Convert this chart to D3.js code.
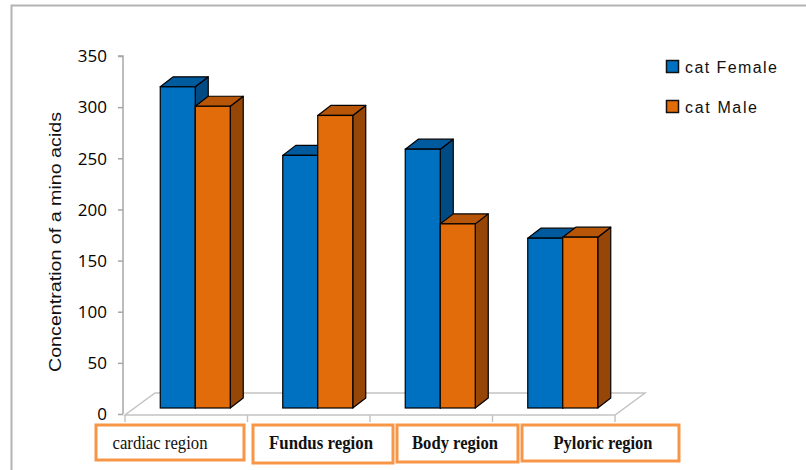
<!DOCTYPE html>
<html>
<head>
<meta charset="utf-8">
<script src="https://cdn.jsdelivr.net/npm/d3@7"></script>
<style>
  html, body { margin: 0; padding: 0; background: #fff; }
  svg { display: block; }
</style>
</head>
<body>
<svg id="chart" width="806" height="470"></svg>
<script>
// Amino acid concentration by stomach region, female vs male cats
const categories = ["cardiac region", "Fundus region", "Body region", "Pyloric region"];
const seriesNames = ["cat Female", "cat Male"];
const femaleValues = [314, 247, 253, 166];
const maleValues = [295, 286, 180, 167];
const yTicks = [0, 50, 100, 150, 200, 250, 300, 350];
const yTitle = "Concentration of a mino acids";

// layout of the category label boxes under the floor
const labelBoxes = [
  { x0: 96,  x1: 244, y0: 425, y1: 460, cx: 160, w: 95,  bold: false },
  { x0: 253, x1: 393, y0: 425, y1: 463, cx: 321, w: 104, bold: true },
  { x0: 397, x1: 518, y0: 425, y1: 462, cx: 455, w: 86,  bold: true },
  { x0: 522, x1: 679, y0: 425, y1: 461, cx: 603, w: 99,  bold: true }
];

const seriesColors = [
  { front: "#0070c0", top: "#005a9e", side: "#004b84" },
  { front: "#e36c0a", top: "#b75608", side: "#964606" }
];

const svg = d3.select("#chart");

// outer frame
svg.append("path")
  .attr("d", "M11.5,470 L11.5,5.5 L806,5.5")
  .attr("fill", "none")
  .attr("stroke", "#b3b3b3")
  .attr("stroke-width", 2);

const y = d3.scaleLinear().domain([0, 350]).range([414, 56]);
const floorX0 = 125, floorX1 = 615, floorY = 415;
const depth = { dx: 30, dy: -22 };          // full floor depth
const frontShift = { dx: 9, dy: -6 };       // bar front face inside the floor
const barDepth = { dx: 13, dy: -10 };
const groupW = 70;

const x0 = d3.scaleBand().domain(categories).range([floorX0, floorX1]);
const x1 = d3.scaleBand().domain(seriesNames).range([0, groupW]);

const gridColor = "#c4c4c4";

// floor
const floor = svg.append("g");
floor.append("polygon")
  .attr("points", [
    [floorX0, floorY], [floorX1, floorY],
    [floorX1 + depth.dx, floorY + depth.dy], [floorX0 + depth.dx, floorY + depth.dy]
  ].map(p => p.join(",")).join(" "))
  .attr("fill", "#fff")
  .attr("stroke", gridColor)
  .attr("stroke-width", 1.5);

// category tick marks along the front edge
const boundaries = categories.map(c => x0(c)).concat([floorX1]);
floor.selectAll("line.ctick").data(boundaries).join("line")
  .attr("class", "ctick")
  .attr("x1", d => d).attr("x2", d => d)
  .attr("y1", floorY).attr("y2", floorY + 7)
  .attr("stroke", gridColor).attr("stroke-width", 1.5);

// value axis
const axisX = 123;
const axisG = svg.append("g").attr("transform", `translate(${axisX},0)`);
axisG.call(d3.axisLeft(y).tickValues(yTicks).tickSize(5).tickPadding(11).tickFormat(d3.format("d")));
axisG.select(".domain").attr("stroke", "#a6a6a6").attr("stroke-width", 1.5)
  .attr("d", `M-5,${y(350)}H0V${y(0)}`);
axisG.selectAll(".tick line").attr("stroke", "#a6a6a6").attr("stroke-width", 1.5);
axisG.selectAll(".tick text")
  .attr("font-family", "'Open Sans', 'Liberation Sans', sans-serif")
  .attr("font-size", 17)
  .attr("fill", "#000")
  .attr("dy", "0.34em");

// axis title
svg.append("text")
  .attr("transform", "translate(61,242) rotate(-90)")
  .attr("text-anchor", "middle")
  .attr("font-family", "'Liberation Sans', Arial, sans-serif")
  .attr("font-size", 16)
  .attr("fill", "#111")
  .attr("textLength", 260)
  .attr("lengthAdjust", "spacingAndGlyphs")
  .text(yTitle);

// bars
const rows = categories.map((c, i) => ({
  cat: c,
  vals: [femaleValues[i], maleValues[i]]
}));

const bars = svg.append("g");
const pts = arr => arr.map(p => p.join(",")).join(" ");

rows.forEach(row => {
  const g = bars.append("g");
  const groupLeft = x0(row.cat) + (x0.bandwidth() - groupW) / 2;
  row.vals.forEach((v, si) => {
    const w = x1.bandwidth();
    const xl = groupLeft + x1(seriesNames[si]) + frontShift.dx;
    const xr = xl + w;
    const yb = y(0) + frontShift.dy;
    const yt = y(v) + frontShift.dy;
    const c = seriesColors[si];
    const dx = barDepth.dx, dy = barDepth.dy;
    g.append("polygon")
      .attr("points", pts([[xr, yt], [xr + dx, yt + dy], [xr + dx, yb + dy], [xr, yb]]))
      .attr("fill", c.side).attr("stroke", "#000").attr("stroke-width", 1.2)
      .attr("stroke-linejoin", "round");
    g.append("polygon")
      .attr("points", pts([[xl, yt], [xl + dx, yt + dy], [xr + dx, yt + dy], [xr, yt]]))
      .attr("fill", c.top).attr("stroke", "#000").attr("stroke-width", 1.2)
      .attr("stroke-linejoin", "round");
    g.append("rect")
      .attr("x", xl).attr("y", yt)
      .attr("width", w).attr("height", yb - yt)
      .attr("fill", c.front).attr("stroke", "#000").attr("stroke-width", 1.2);
  });
});

// category label boxes
const boxes = svg.append("g");
labelBoxes.forEach((b, i) => {
  boxes.append("rect")
    .attr("x", b.x0).attr("y", b.y0)
    .attr("width", b.x1 - b.x0).attr("height", b.y1 - b.y0)
    .attr("fill", "#fff")
    .attr("stroke", "#f79646")
    .attr("stroke-width", 3);
  boxes.append("text")
    .attr("x", b.cx).attr("y", 449)
    .attr("text-anchor", "middle")
    .attr("font-family", "'Liberation Serif', 'DejaVu Serif', serif")
    .attr("font-size", 19)
    .attr("font-weight", b.bold ? "bold" : "normal")
    .attr("fill", "#111")
    .attr("textLength", b.w)
    .attr("lengthAdjust", "spacingAndGlyphs")
    .text(categories[i]);
});

// legend
const legend = svg.append("g");
const legendRows = [
  { y: 60, tl: 92 },
  { y: 100, tl: 72 }
];
seriesNames.forEach((name, i) => {
  const ly = legendRows[i].y;
  legend.append("rect")
    .attr("x", 666.5).attr("y", ly + 0.5)
    .attr("width", 12).attr("height", 12)
    .attr("fill", seriesColors[i].front)
    .attr("stroke", "#111").attr("stroke-width", 1.5);
  legend.append("text")
    .attr("x", 685).attr("y", ly + 13)
    .attr("font-family", "'Liberation Sans', Arial, sans-serif")
    .attr("font-size", 16)
    .attr("fill", "#111")
    .attr("textLength", legendRows[i].tl)
    .attr("lengthAdjust", "spacing")
    .text(name);
});
</script>
</body>
</html>
